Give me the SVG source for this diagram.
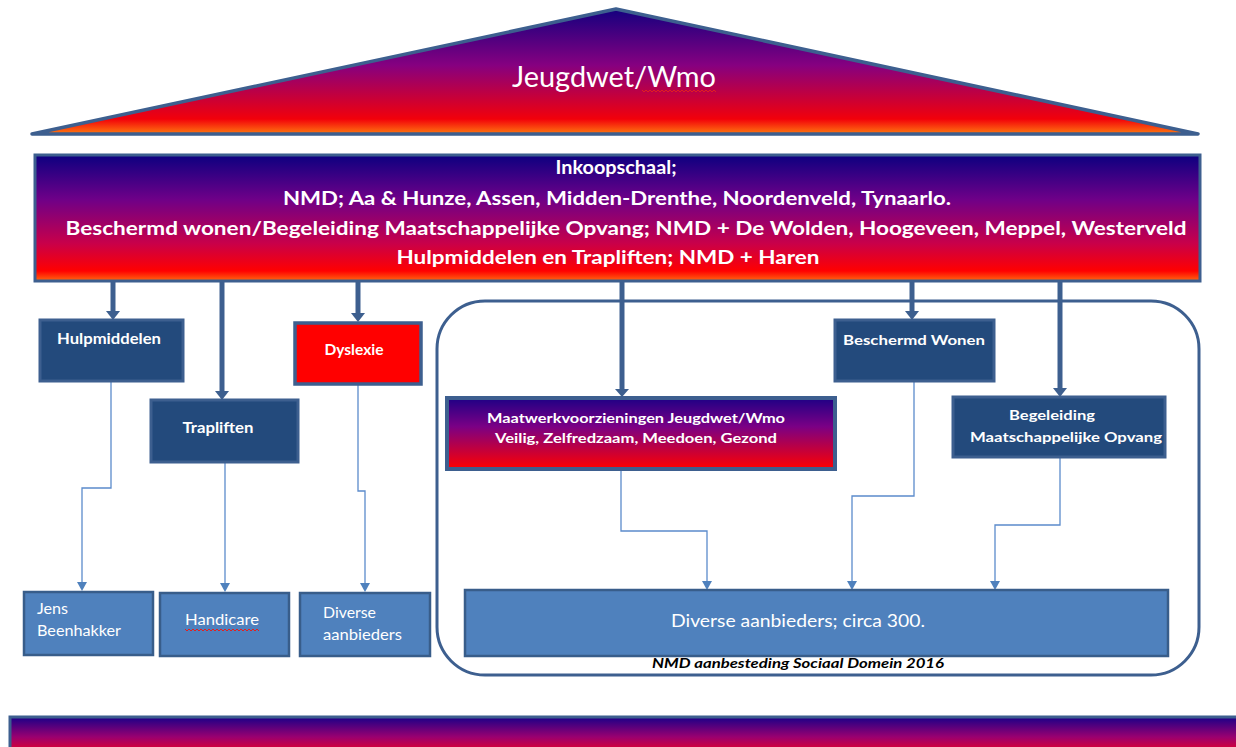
<svg xmlns="http://www.w3.org/2000/svg" width="1236" height="747" viewBox="0 0 1236 747">
<defs>
<linearGradient id="gRoof" x1="0" y1="0" x2="0" y2="1">
<stop offset="0" stop-color="#14007f"/>
<stop offset="0.45" stop-color="#860080"/>
<stop offset="0.88" stop-color="#f2000a"/>
<stop offset="1" stop-color="#ff7a10"/>
</linearGradient>
<linearGradient id="gMain" x1="0" y1="0" x2="0" y2="1">
<stop offset="0" stop-color="#0c0080"/>
<stop offset="0.35" stop-color="#6e0088"/>
<stop offset="0.7" stop-color="#c8004a"/>
<stop offset="0.92" stop-color="#ff0000"/>
<stop offset="1" stop-color="#ff6a10"/>
</linearGradient>
<linearGradient id="gBox" x1="0" y1="0" x2="0" y2="1">
<stop offset="0" stop-color="#1e0085"/>
<stop offset="0.4" stop-color="#7a0085"/>
<stop offset="1" stop-color="#ff0000"/>
</linearGradient>
<linearGradient id="gBar" x1="0" y1="0" x2="0" y2="1">
<stop offset="0" stop-color="#1a0088"/>
<stop offset="0.5" stop-color="#9a0070"/>
<stop offset="1" stop-color="#ff0010"/>
</linearGradient>
<style>
.dark{fill:#234a7c;stroke:#3d5f8f;stroke-width:3}
.light{fill:#4f81bd;stroke:#385d8a;stroke-width:2.5}
.tb{font-family:Lato,"Liberation Sans",sans-serif;font-weight:bold;fill:#fff}
.tn{font-family:Lato,"Liberation Sans",sans-serif;fill:#fff}
.thick{stroke:#3d5f8f;stroke-width:5;fill:none}
.thin{stroke:#5b8bcb;stroke-width:1.3;fill:none}
.ah{fill:#3d5f8f}
.ahl{fill:#4f81bd}
.sq{stroke:#e02020;stroke-width:1;fill:none}
</style>
</defs>

<g id="roof">
<polygon points="32,134 616,9 1198,134" fill="url(#gRoof)" stroke="#3d5f8f" stroke-width="3.5" stroke-linejoin="round"/>
<text x="614" y="87" text-anchor="middle" class="tn" font-size="28" textLength="204" lengthAdjust="spacingAndGlyphs">Jeugdwet/Wmo</text>
<path class="sq" d="M642,90 l2,2 l2,-2 l2,2 l2,-2 l2,2 l2,-2 l2,2 l2,-2 l2,2 l2,-2 l2,2 l2,-2 l2,2 l2,-2 l2,2 l2,-2 l2,2 l2,-2 l2,2 l2,-2 l2,2 l2,-2 l2,2 l2,-2 l2,2 l2,-2 l2,2 l2,-2 l2,2 l2,-2 l2,2 l2,-2 l2,2 l2,-2 l2,2 l2,-2 l2,2"/>
</g>

<g id="inkoopschaal">
<rect x="35" y="155" width="1165" height="126" fill="url(#gMain)" stroke="#3d5f8f" stroke-width="3"/>
<text x="616" y="174" text-anchor="middle" class="tb" font-size="18" textLength="121" lengthAdjust="spacingAndGlyphs">Inkoopschaal;</text>
<text x="617" y="205" text-anchor="middle" class="tb" font-size="18" textLength="668" lengthAdjust="spacingAndGlyphs">NMD; Aa &amp; Hunze, Assen, Midden-Drenthe, Noordenveld, Tynaarlo.</text>
<text x="626" y="235" text-anchor="middle" class="tb" font-size="18" textLength="1121" lengthAdjust="spacingAndGlyphs">Beschermd wonen/Begeleiding Maatschappelijke Opvang; NMD + De Wolden,  Hoogeveen, Meppel, Westerveld</text>
<text x="608" y="264" text-anchor="middle" class="tb" font-size="18" textLength="423" lengthAdjust="spacingAndGlyphs">Hulpmiddelen  en Trapliften; NMD + Haren</text>
</g>

<g id="container">
<rect x="437" y="301" width="762" height="374" rx="48" ry="48" fill="none" stroke="#3d5f8f" stroke-width="3"/>
<text x="798" y="668" text-anchor="middle" font-family="Lato,'Liberation Sans',sans-serif" font-style="italic" font-weight="bold" font-size="14" fill="#000" textLength="292" lengthAdjust="spacingAndGlyphs">NMD aanbesteding Sociaal Domein 2016</text>
</g>

<g id="connectors">
<line class="thick" x1="113" y1="282" x2="113" y2="312"/>
<path class="ah" d="M106,311 L120,311 L113,320 Z"/>
<line class="thick" x1="222" y1="282" x2="222" y2="392"/>
<path class="ah" d="M215,391 L229,391 L222,400 Z"/>
<line class="thick" x1="358" y1="282" x2="358" y2="314"/>
<path class="ah" d="M351,313 L365,313 L358,322 Z"/>
<line class="thick" x1="622" y1="282" x2="622" y2="390"/>
<path class="ah" d="M615,389 L629,389 L622,397 Z"/>
<line class="thick" x1="912" y1="282" x2="912" y2="312"/>
<path class="ah" d="M905,311 L919,311 L912,320 Z"/>
<line class="thick" x1="1060" y1="282" x2="1060" y2="389"/>
<path class="ah" d="M1053,388 L1067,388 L1060,397 Z"/>

<polyline class="thin" points="111,381 111,488 82,488 82,583"/>
<path class="ahl" d="M77,582 L87,582 L82,591 Z"/>
<polyline class="thin" points="225,462 225,584"/>
<path class="ahl" d="M220,583 L230,583 L225,592 Z"/>
<polyline class="thin" points="358,385 358,491 365,491 365,584"/>
<path class="ahl" d="M360,583 L370,583 L365,592 Z"/>
<polyline class="thin" points="621,470 621,531 707,531 707,582"/>
<path class="ahl" d="M702,581 L712,581 L707,590 Z"/>
<polyline class="thin" points="914,381 914,496 852,496 852,582"/>
<path class="ahl" d="M847,581 L857,581 L852,590 Z"/>
<polyline class="thin" points="1060,457 1060,525 995,525 995,582"/>
<path class="ahl" d="M990,581 L1000,581 L995,590 Z"/>
</g>

<g id="hulpmiddelen">
<rect class="dark" x="40" y="320" width="143" height="61"/>
<text x="109" y="344" text-anchor="middle" class="tb" font-size="15" textLength="104" lengthAdjust="spacingAndGlyphs">Hulpmiddelen</text>
</g>
<g id="trapliften">
<rect class="dark" x="151" y="400" width="147" height="62"/>
<text x="218" y="433" text-anchor="middle" class="tb" font-size="15" textLength="71" lengthAdjust="spacingAndGlyphs">Trapliften</text>
</g>
<g id="dyslexie">
<rect x="295" y="323" width="126" height="61" fill="#ff0000" stroke="#3d5f8f" stroke-width="3.5"/>
<text x="354" y="355" text-anchor="middle" class="tb" font-size="15" textLength="59" lengthAdjust="spacingAndGlyphs">Dyslexie</text>
</g>
<g id="maatwerk">
<rect x="447" y="398" width="388" height="71" fill="url(#gBox)" stroke="#3d5f8f" stroke-width="4"/>
<text x="636" y="423" text-anchor="middle" class="tb" font-size="14" textLength="298" lengthAdjust="spacingAndGlyphs">Maatwerkvoorzieningen Jeugdwet/Wmo</text>
<text x="636" y="443" text-anchor="middle" class="tb" font-size="14" textLength="282" lengthAdjust="spacingAndGlyphs">Veilig,  Zelfredzaam, Meedoen, Gezond</text>
</g>
<g id="beschermd-wonen">
<rect class="dark" x="835" y="320" width="159" height="61"/>
<text x="914" y="345" text-anchor="middle" class="tb" font-size="14" textLength="142" lengthAdjust="spacingAndGlyphs">Beschermd Wonen</text>
</g>
<g id="begeleiding">
<rect class="dark" x="953" y="397" width="212" height="60"/>
<text x="1052" y="420" text-anchor="middle" class="tb" font-size="14" textLength="86" lengthAdjust="spacingAndGlyphs">Begeleiding</text>
<text x="1066" y="442" text-anchor="middle" class="tb" font-size="14" textLength="192" lengthAdjust="spacingAndGlyphs">Maatschappelijke Opvang</text>
</g>

<g id="jens-beenhakker">
<rect class="light" x="24" y="592" width="129" height="63"/>
<text x="37" y="614" class="tn" font-size="15" textLength="31" lengthAdjust="spacingAndGlyphs">Jens</text>
<text x="37" y="636" class="tn" font-size="15" textLength="84" lengthAdjust="spacingAndGlyphs">Beenhakker</text>
</g>
<g id="handicare">
<rect class="light" x="160" y="593" width="129" height="63"/>
<text x="185" y="625" class="tn" font-size="15" textLength="74" lengthAdjust="spacingAndGlyphs">Handicare</text>
<path class="sq" d="M185,629 l2,2 l2,-2 l2,2 l2,-2 l2,2 l2,-2 l2,2 l2,-2 l2,2 l2,-2 l2,2 l2,-2 l2,2 l2,-2 l2,2 l2,-2 l2,2 l2,-2 l2,2 l2,-2 l2,2 l2,-2 l2,2 l2,-2 l2,2 l2,-2 l2,2 l2,-2 l2,2 l2,-2 l2,2 l2,-2 l2,2 l2,-2 l2,2 l2,-2 l2,2"/>
</g>
<g id="diverse-aanbieders">
<rect class="light" x="300" y="593" width="130" height="63"/>
<text x="323" y="618" class="tn" font-size="15" textLength="53" lengthAdjust="spacingAndGlyphs">Diverse</text>
<text x="323" y="640" class="tn" font-size="15" textLength="79" lengthAdjust="spacingAndGlyphs">aanbieders</text>
</g>
<g id="diverse-300">
<rect class="light" x="465" y="590" width="703" height="66"/>
<text x="798" y="627" text-anchor="middle" class="tn" font-size="18" textLength="254" lengthAdjust="spacingAndGlyphs">Diverse aanbieders; circa 300.</text>
</g>

<g id="bottom-bar">
<rect x="10" y="717" width="1240" height="40" fill="url(#gBar)" stroke="#3d5f8f" stroke-width="3"/>
</g>
</svg>
